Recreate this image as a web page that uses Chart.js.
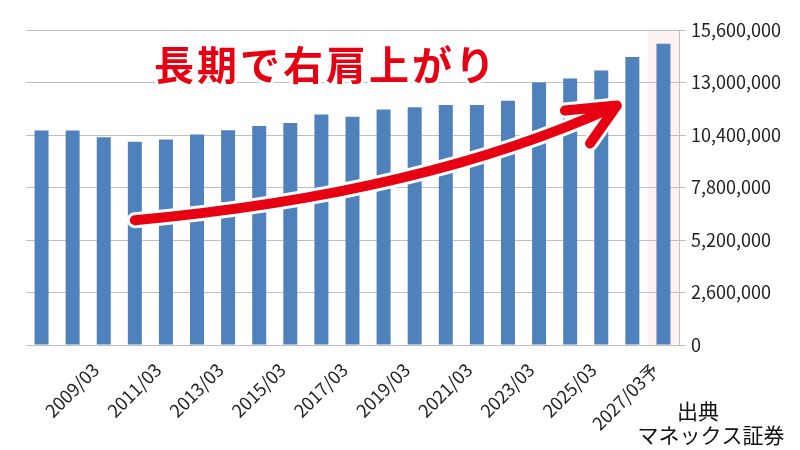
<!DOCTYPE html>
<html lang="ja">
<head>
<meta charset="utf-8">
<script src="https://cdn.jsdelivr.net/npm/chart.js@4.4.1/dist/chart.umd.min.js"></script>
<style>
html, body { margin: 0; padding: 0; background: #fff; }
#wrap { width: 800px; height: 450px; position: relative; }
</style>
</head>
<body>
<div id="wrap"><canvas id="chart"></canvas></div>
<script>
const categories = [
    '2007/03', '2008/03', '2009/03', '2010/03', '2011/03', '2012/03', '2013/03',
    '2014/03', '2015/03', '2016/03', '2017/03', '2018/03', '2019/03', '2020/03',
    '2021/03', '2022/03', '2023/03', '2024/03', '2025/03', '2026/03', '2027/03予'
];
const values = [
    10620000, 10620000, 10290000, 10060000, 10180000, 10420000, 10640000,
    10850000, 10990000, 11410000, 11310000, 11660000, 11780000, 11880000,
    11880000, 12100000, 13000000, 13200000, 13600000, 14260000, 14920000
];
const yTickValues = [0, 2600000, 5200000, 7800000, 10400000, 13000000, 15600000];

const titleText = '長期で右肩上がり';
const sourceLines = ['出典', 'マネックス証券'];

// arrow annotation in (category index, value) terms
const arrowCurve = [[3.0, 6180000], [12.31, 7490000], [18.5, 11860000]];
const arrowWings = [[16.83, 11610000], [17.64, 9980000]];

const FONT = '"Noto Sans CJK JP", "Noto Sans", sans-serif';
const RED = '#e60012';

const highlightForecast = {
    id: 'highlightForecast',
    beforeDraw(chart) {
        const { ctx, chartArea, scales: { x } } = chart;
        const half = (x.getPixelForValue(1) - x.getPixelForValue(0)) / 2;
        const cx = x.getPixelForValue(categories.length - 1);
        ctx.save();
        ctx.fillStyle = '#fdf1f1';
        ctx.fillRect(cx - half, chartArea.top, half * 2, chartArea.bottom - chartArea.top);
        ctx.restore();
    }
};

const annotations = {
    id: 'annotations',
    afterDatasetsDraw(chart) {
        const { ctx, scales: { x, y } } = chart;
        const pt = ([i, v]) => ({ x: x.getPixelForValue(i), y: y.getPixelForValue(v) });
        const [p0, c, p1] = arrowCurve.map(pt);
        const wings = arrowWings.map(pt);

        const strokeArrow = () => {
            ctx.beginPath();
            ctx.moveTo(p0.x, p0.y);
            ctx.quadraticCurveTo(c.x, c.y, p1.x, p1.y);
            wings.forEach(w => {
                ctx.moveTo(p1.x, p1.y);
                ctx.lineTo(w.x, w.y);
            });
            ctx.stroke();
        };

        ctx.save();
        ctx.lineCap = 'round';
        ctx.lineJoin = 'round';
        ctx.strokeStyle = '#ffffff';
        ctx.lineWidth = 16;
        strokeArrow();
        ctx.strokeStyle = RED;
        ctx.lineWidth = 10;
        strokeArrow();

        // title
        ctx.font = 'bold 40px ' + FONT;
        ctx.textBaseline = 'middle';
        ctx.textAlign = 'left';
        ctx.letterSpacing = '3px';
        ctx.lineWidth = 6;
        ctx.strokeStyle = '#ffffff';
        ctx.strokeText(titleText, 154, 65);
        ctx.fillStyle = RED;
        ctx.fillText(titleText, 154, 65);

        // source
        ctx.letterSpacing = '0px';
        ctx.font = '21px ' + FONT;
        ctx.fillStyle = '#111111';
        ctx.textAlign = 'center';
        ctx.fillText(sourceLines[0], 698, 411);
        ctx.fillText(sourceLines[1], 711, 435);
        ctx.restore();
    }
};

const ctx = document.getElementById('chart');

new Chart(ctx, {
    type: 'bar',
    data: {
        labels: categories,
        datasets: [{
            data: values,
            backgroundColor: '#4f81bd',
            categoryPercentage: 1,
            barPercentage: 0.45
        }]
    },
    options: {
        responsive: true,
        maintainAspectRatio: false,
        animation: false,
        layout: {
            padding: { left: 26, top: 30, right: 0, bottom: 0 }
        },
        scales: {
            x: {
                grid: { display: false },
                border: { display: true, color: '#bfbfbf', width: 1 },
                afterFit: (scale) => { scale.height = 105; },
                ticks: {
                    autoSkip: false,
                    maxRotation: 45,
                    minRotation: 45,
                    padding: 6,
                    labelOffset: -8,
                    color: '#222222',
                    font: { size: 18, family: FONT },
                    callback: function(val, index) {
                        return index % 2 === 0 && index > 0 ? this.getLabelForValue(val) : '';
                    }
                }
            },
            y: {
                position: 'right',
                min: yTickValues[0],
                max: yTickValues[yTickValues.length - 1],
                afterFit: (scale) => { scale.width = 121; },
                grid: {
                    color: '#bfbfbf',
                    lineWidth: 1,
                    tickLength: 7
                },
                border: { display: true, color: '#bfbfbf', width: 1 },
                ticks: {
                    stepSize: yTickValues[1] - yTickValues[0],
                    padding: 5,
                    color: '#222222',
                    font: { size: 18, family: FONT },
                    callback: (val) => Number(val).toLocaleString('en-US')
                }
            }
        },
        plugins: {
            legend: { display: false },
            tooltip: { enabled: false }
        }
    },
    plugins: [highlightForecast, annotations]
});
</script>
</body>
</html>
